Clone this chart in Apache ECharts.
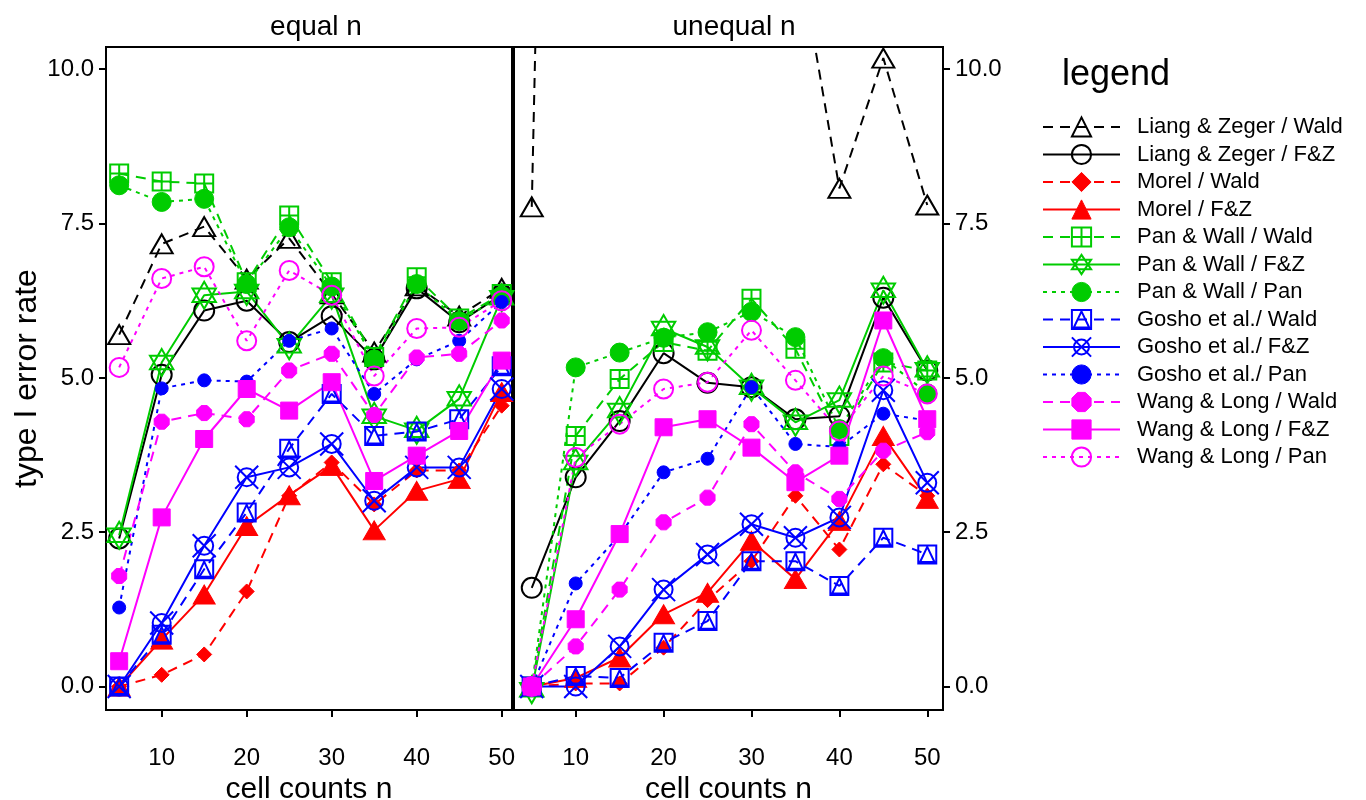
<!DOCTYPE html>
<html><head><meta charset="utf-8">
<script src="https://cdn.jsdelivr.net/npm/echarts@6/dist/echarts.min.js"></script>
<style>html,body{margin:0;padding:0;background:#fff}#c{width:1366px;height:800px}</style>
</head><body><div id="c"></div><script>
// ---------- data ----------
const cellCounts = [5, 10, 15, 20, 25, 30, 35, 40, 45, 50];
const xTickValues = [10, 20, 30, 40, 50];
const yTickValues = [0, 2.5, 5, 7.5, 10];
const panelTitles = ['equal n', 'unequal n'];
const seriesNames = [
  'Liang & Zeger / Wald', 'Liang & Zeger / F&Z', 'Morel / Wald', 'Morel / F&Z',
  'Pan & Wall / Wald', 'Pan & Wall / F&Z', 'Pan & Wall / Pan',
  'Gosho et al./ Wald', 'Gosho et al./ F&Z', 'Gosho et al./ Pan',
  'Wang & Long / Wald', 'Wang & Long / F&Z', 'Wang & Long / Pan'
];
// equal n
const lzWaldEq    = [5.70, 7.17, 7.45, 6.60, 7.26, 6.36, 5.42, 6.49, 6.00, 6.45];
const lzFzEq      = [2.40, 5.05, 6.09, 6.25, 5.58, 6.00, 5.30, 6.45, 5.90, 6.35];
const morelWaldEq = [0.00, 0.19, 0.52, 1.54, 3.09, 3.63, 2.95, 3.50, 3.50, 4.55];
const morelFzEq   = [0.00, 0.76, 1.49, 2.60, 3.10, 3.57, 2.53, 3.17, 3.36, 4.77];
const pwWaldEq    = [8.31, 8.18, 8.15, 6.55, 7.63, 6.55, 5.34, 6.63, 5.96, 6.36];
const pwFzEq      = [2.45, 5.25, 6.34, 6.40, 5.52, 6.34, 4.38, 4.15, 4.66, 6.30];
const pwPanEq     = [8.12, 7.85, 7.90, 6.52, 7.44, 6.48, 5.30, 6.52, 5.92, 6.33];
const goWaldEq    = [0.00, 0.84, 1.90, 2.82, 3.85, 4.74, 4.06, 4.13, 4.33, 5.19];
const goFzEq      = [0.00, 1.03, 2.28, 3.39, 3.55, 3.93, 3.01, 3.55, 3.55, 4.82];
const goPanEq     = [1.28, 4.83, 4.96, 4.94, 5.60, 5.80, 4.74, 5.30, 5.60, 6.23];
const wlWaldEq    = [1.79, 4.29, 4.43, 4.33, 5.12, 5.39, 4.40, 5.33, 5.39, 5.93];
const wlFzEq      = [0.41, 2.74, 4.01, 4.82, 4.47, 4.93, 3.33, 3.74, 4.14, 5.28];
const wlPanEq     = [5.17, 6.61, 6.80, 5.60, 6.74, 6.34, 5.03, 5.80, 5.82, 6.25];
// unequal n
const lzWaldUn    = [7.77, 40.0, 35.0, 30.0, 25.0, 20.0, 12.2, 8.07, 10.18, 7.80];
const lzFzUn      = [1.60, 3.39, 4.30, 5.40, 4.92, 4.85, 4.33, 4.38, 6.30, 5.12];
const morelWaldUn = [0.00, 0.05, 0.05, 0.63, 1.40, 2.03, 3.09, 2.22, 3.60, 3.09];
const morelFzUn   = [0.00, 0.14, 0.47, 1.17, 1.52, 2.36, 1.74, 2.68, 4.06, 3.04];
const pwWaldUn    = [0.00, 4.06, 4.98, 5.58, 5.44, 6.28, 5.47, 4.06, 5.25, 5.12];
const pwFzUn      = [-0.05, 3.63, 4.47, 5.80, 5.50, 4.85, 4.28, 4.64, 6.42, 5.13];
const pwPanUn     = [0.00, 5.17, 5.41, 5.65, 5.74, 6.07, 5.66, 4.17, 5.32, 4.75];
const goWaldUn    = [0.00, 0.17, 0.14, 0.71, 1.06, 2.03, 2.03, 1.63, 2.41, 2.14];
const goFzUn      = [0.00, 0.00, 0.65, 1.57, 2.14, 2.63, 2.41, 2.74, 4.80, 3.30];
const goPanUn     = [0.00, 1.67, 2.45, 3.47, 3.69, 4.85, 3.93, 3.88, 4.42, 4.31];
const wlWaldUn    = [0.00, 0.65, 1.57, 2.66, 3.06, 4.25, 3.47, 3.04, 3.82, 4.12];
const wlFzUn      = [0.00, 1.09, 2.47, 4.20, 4.33, 3.87, 3.31, 3.74, 5.93, 4.33];
const wlPanUn     = [0.00, 3.71, 4.25, 4.82, 4.93, 5.77, 4.96, 4.14, 5.03, 4.74];

const equalData = [lzWaldEq, lzFzEq, morelWaldEq, morelFzEq, pwWaldEq, pwFzEq, pwPanEq,
  goWaldEq, goFzEq, goPanEq, wlWaldEq, wlFzEq, wlPanEq];
const unequalData = [lzWaldUn, lzFzUn, morelWaldUn, morelFzUn, pwWaldUn, pwFzUn, pwPanUn,
  goWaldUn, goFzUn, goPanUn, wlWaldUn, wlFzUn, wlPanUn];

// ---------- styles ----------
const BLACK = '#000000', RED = '#ff0000', GREEN = '#00cc00', BLUE = '#0000ff', MAG = '#ff00ff';
const DASH = [10, 7], DOT = [4, 5], SOLID = 'solid';
const P_SQCROSS = 'path://M0,0L100,0L100,100L0,100Z M50,0L50,100 M0,50L100,50';
const P_HEX = 'path://M50,0L93.3,75L6.7,75Z M50,100L6.7,25L93.3,25Z';
const P_SQTRI = 'path://M0,0L100,0L100,100L0,100Z M50,8L90,92L10,92Z';
const P_CIRCX = 'path://M14,50A36,36,0,1,1,86,50A36,36,0,1,1,14,50Z M4,4L96,96 M96,4L4,96';
const P_OCT = 'path://M30,0L70,0L100,30L100,70L70,100L30,100L0,70L0,30Z';
const styles = [
  {c: BLACK, t: DASH,  s: 'triangle', z: [22, 19], f: false},
  {c: BLACK, t: SOLID, s: 'circle',   z: 20, f: false},
  {c: RED,   t: DASH,  s: 'diamond',  z: 15, f: true},
  {c: RED,   t: SOLID, s: 'triangle', z: [22, 19], f: true},
  {c: GREEN, t: DASH,  s: P_SQCROSS,  z: 18, f: false},
  {c: GREEN, t: SOLID, s: P_HEX,      z: 27, f: false},
  {c: GREEN, t: DOT,   s: 'circle',   z: 19, f: true},
  {c: BLUE,  t: DASH,  s: P_SQTRI,    z: 18, f: false},
  {c: BLUE,  t: SOLID, s: P_CIRCX,    z: 23, f: false},
  {c: BLUE,  t: DOT,   s: 'circle',   z: 13, f: true},
  {c: MAG,   t: DASH,  s: P_OCT,      z: 15, f: true},
  {c: MAG,   t: SOLID, s: 'rect',     z: 17, f: true},
  {c: MAG,   t: DOT,   s: 'circle',   z: 19, f: false}
];
const FW = "'Liberation Sans', Arial, sans-serif";

function itemStyleOf(st) {
  return st.f ? {color: st.c, borderColor: st.c, borderWidth: 1}
              : {color: 'rgba(255,255,255,0)', borderColor: st.c, borderWidth: 2};
}

const series = [];
[equalData, unequalData].forEach((set, g) => {
  set.forEach((vals, i) => {
    const st = styles[i];
    series.push({
      name: seriesNames[i], type: 'line', xAxisIndex: g, yAxisIndex: g,
      data: cellCounts.map((n, k) => [n, vals[k]]),
      symbol: st.s, symbolSize: st.z, symbolKeepAspect: true, showAllSymbol: true,
      clip: true, silent: true, animation: false,
      lineStyle: {color: st.c, width: 2, type: st.t},
      itemStyle: itemStyleOf(st),
      emphasis: {disabled: true}
    });
  });
});

const xAxisBase = (g, min, max) => ({
  type: 'value', gridIndex: g, min: min, max: max,
  splitLine: {show: false}, axisLine: {show: false, onZero: false},
  axisTick: {show: true, length: 7, lineStyle: {color: '#000', width: 2}, customValues: xTickValues},
  axisLabel: {color: '#000', fontSize: 24, fontFamily: FW, margin: 36, customValues: xTickValues},
  name: 'cell counts n', nameLocation: 'middle', nameGap: 60,
  nameTextStyle: {color: '#000', fontSize: 30, fontFamily: FW}
});
const yAxisBase = (g, pos) => ({
  type: 'value', gridIndex: g, min: -0.38, max: 10.36, position: pos,
  splitLine: {show: false}, axisLine: {show: false, onZero: false},
  axisTick: {show: true, length: 7, lineStyle: {color: '#000', width: 2}, customValues: yTickValues},
  axisLabel: {color: '#000', fontSize: 24, fontFamily: FW, margin: 12, customValues: yTickValues,
    formatter: v => Number(v).toFixed(1)}
});

const yLeft = yAxisBase(0, 'left');
yLeft.name = 'type I error rate';
yLeft.nameLocation = 'middle';
yLeft.nameGap = 62;
yLeft.nameTextStyle = {color: '#000', fontSize: 32, fontFamily: FW};

const option = {
  backgroundColor: '#fff',
  animation: false,
  title: [
    {text: panelTitles[0], left: 311, top: 8, textAlign: 'center', textStyle: {fontSize: 28, fontWeight: 'normal', fontFamily: FW, color: '#000'}},
    {text: panelTitles[1], left: 729, top: 8, textAlign: 'center', textStyle: {fontSize: 28, fontWeight: 'normal', fontFamily: FW, color: '#000'}},
    {text: 'legend', left: 1057, top: 52, textStyle: {fontSize: 36, fontWeight: 'normal', fontFamily: FW, color: '#000'}}
  ],
  grid: [
    {left: 106, top: 47, width: 406, height: 663, show: true, borderColor: '#000', borderWidth: 2,
     backgroundColor: 'transparent', containLabel: false, outerBoundsMode: 'none'},
    {left: 514, top: 47, width: 429, height: 663, show: true, borderColor: '#000', borderWidth: 2,
     backgroundColor: 'transparent', containLabel: false, outerBoundsMode: 'none'}
  ],
  xAxis: [xAxisBase(0, 3.45, 51.21), xAxisBase(1, 2.98, 51.79)],
  yAxis: [yLeft, yAxisBase(1, 'right')],
  legend: {
    orient: 'vertical', left: 1037, top: 111,
    itemWidth: 77, itemHeight: 24, itemGap: 5.5,
    selectedMode: false,
    textStyle: {fontSize: 22, lineHeight: 22, fontFamily: FW, color: '#000', padding: [0, 0, 0, 12]},
    data: seriesNames.map((nm, i) => {
      const st = styles[i];
      return {name: nm,
        itemStyle: itemStyleOf(st),
        lineStyle: {color: st.c, width: 2, type: st.t}};
    })
  },
  series: series
};
const chart = echarts.init(document.getElementById('c'), null, {renderer: 'canvas'});
chart.setOption(option);
</script></body></html>
